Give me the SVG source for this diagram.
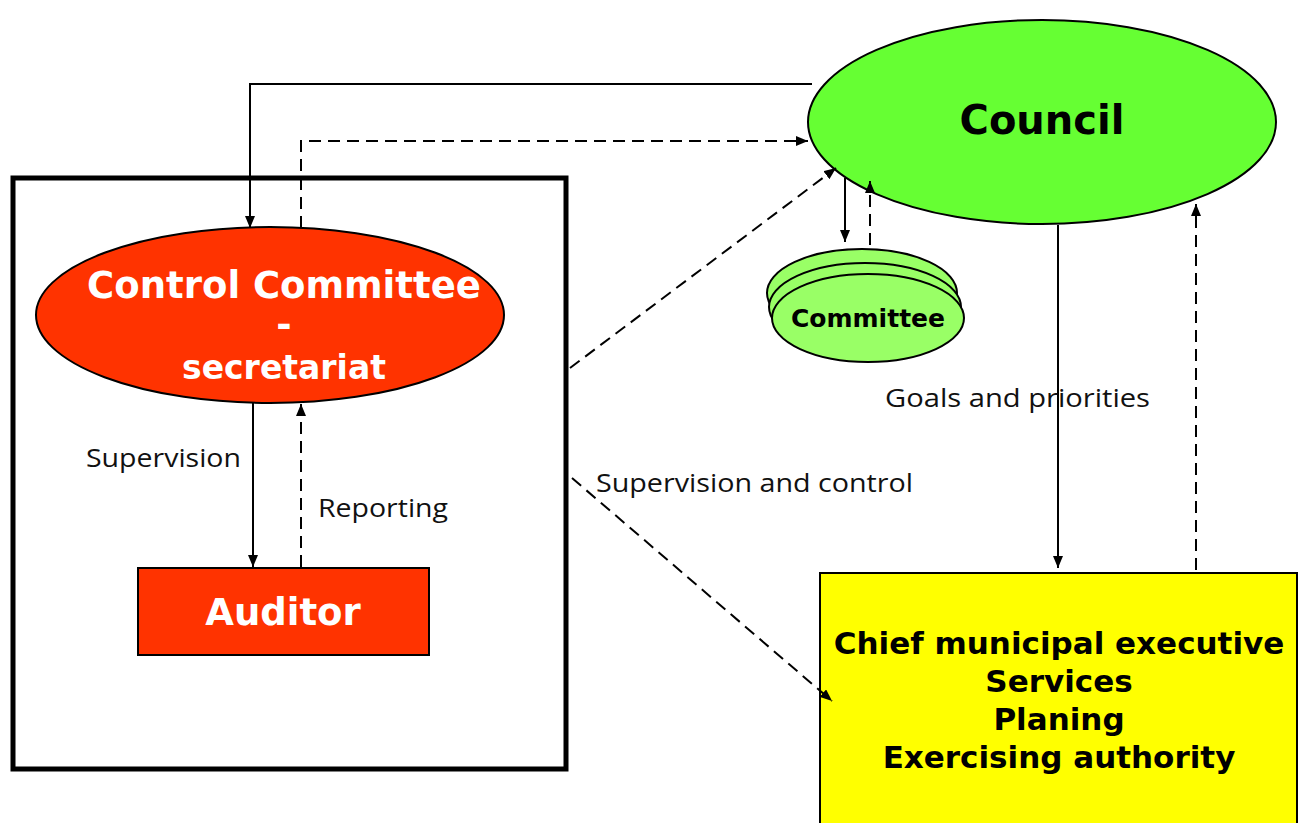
<svg xmlns="http://www.w3.org/2000/svg" width="1306" height="823" viewBox="0 0 1306 823">
<defs>
<marker id="ah" viewBox="0 0 12 10" refX="12" refY="5" markerWidth="12" markerHeight="10" markerUnits="userSpaceOnUse" orient="auto">
<path d="M0,0 L12,5 L0,10 z" fill="#000"/>
</marker>
<style>
.sol{fill:none;stroke:#000;stroke-width:2}
.dash{fill:none;stroke:#000;stroke-width:2;stroke-dasharray:12,7}
.lbl{font-family:"Open Sans","Liberation Sans",sans-serif;font-size:25px;fill:#111}
.bw{font-family:"DejaVu Sans",Verdana,sans-serif;font-weight:bold;fill:#fff;text-anchor:middle}
.bb{font-family:"DejaVu Sans",Verdana,sans-serif;font-weight:bold;fill:#000;text-anchor:middle}
</style>
</defs>
<rect width="1306" height="823" fill="#fff"/>
<g id="frame"><rect x="13" y="178" width="553" height="591" fill="none" stroke="#000" stroke-width="5"/></g>
<g id="council"><ellipse cx="1042" cy="122" rx="234" ry="102" fill="#66FF33" stroke="#000" stroke-width="2"/>
<text class="bb" x="1042" y="134" font-size="40">Council</text></g>
<g id="committee">
<ellipse cx="862" cy="293" rx="95" ry="44" fill="#99FF66" stroke="#000" stroke-width="2"/>
<ellipse cx="865" cy="307" rx="96" ry="44" fill="#99FF66" stroke="#000" stroke-width="2"/>
<ellipse cx="868" cy="318" rx="96" ry="44" fill="#99FF66" stroke="#000" stroke-width="2"/>
<text class="bb" x="868" y="327" font-size="25">Committee</text></g>
<g id="control-committee"><ellipse cx="270" cy="315" rx="234" ry="88" fill="#FF3300" stroke="#000" stroke-width="2"/>
<text class="bw" x="284" y="298" font-size="37">Control Committee</text>
<text class="bw" x="284" y="337" font-size="37">-</text>
<text class="bw" x="284" y="379" font-size="33">secretariat</text></g>
<g id="auditor"><rect x="138" y="568" width="291" height="87" fill="#FF3300" stroke="#000" stroke-width="2"/>
<text class="bw" x="283" y="625" font-size="37">Auditor</text></g>
<g id="executive"><rect x="820" y="573" width="477" height="260" fill="#FFFF00" stroke="#000" stroke-width="2"/>
<text class="bb" x="1059" y="654" font-size="31">Chief municipal executive</text>
<text class="bb" x="1059" y="692" font-size="31">Services</text>
<text class="bb" x="1059" y="730" font-size="31">Planing</text>
<text class="bb" x="1059" y="768" font-size="31">Exercising authority</text></g>
<g id="connectors">
<path class="sol" d="M812,84 H250 V228" marker-end="url(#ah)"/>
<path class="dash" d="M301,228 V141 H808" marker-end="url(#ah)"/>
<path class="dash" d="M570,368 L836,168" marker-end="url(#ah)"/>
<path class="sol" d="M845,178 V242" marker-end="url(#ah)"/>
<path class="dash" d="M870,245 V181" marker-end="url(#ah)"/>
<path class="sol" d="M253,403 V567" marker-end="url(#ah)"/>
<path class="dash" d="M301,567 V404" marker-end="url(#ah)"/>
<path class="sol" d="M1058,225 V568" marker-end="url(#ah)"/>
<path class="dash" d="M1196,570 V204" marker-end="url(#ah)"/>
<path class="dash" d="M572,478 L832,701" marker-end="url(#ah)"/>
</g>
<g id="labels">
<text class="lbl" x="86" y="467" textLength="155" lengthAdjust="spacingAndGlyphs">Supervision</text>
<text class="lbl" x="318" y="517" textLength="130" lengthAdjust="spacingAndGlyphs">Reporting</text>
<text class="lbl" x="596" y="492" textLength="317" lengthAdjust="spacingAndGlyphs">Supervision and control</text>
<text class="lbl" x="885" y="407" textLength="265" lengthAdjust="spacingAndGlyphs">Goals and priorities</text>
</g>
</svg>
